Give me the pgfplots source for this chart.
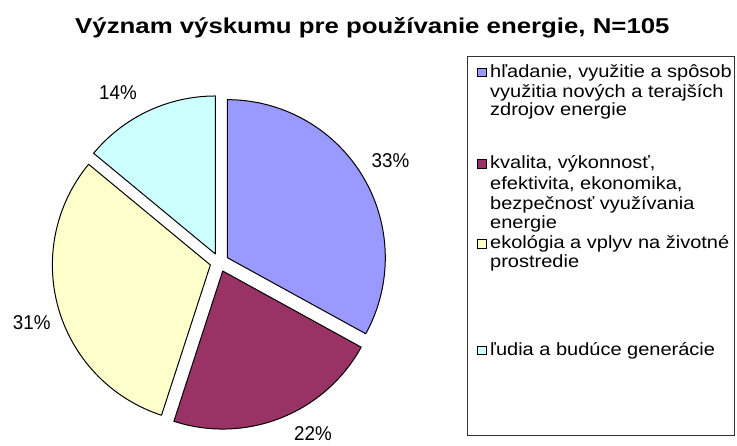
\documentclass[border=0pt]{standalone}
\usepackage{pgfplots}
\pgfplotsset{compat=1.18}
\usepackage{pgfplotstable}
\usepackage{fontspec}
\setmainfont{Liberation Sans}
\newfontfamily\legfont[FakeStretch=1.13]{Liberation Sans}
\newfontfamily\pctfont[FakeStretch=0.94]{Liberation Sans}
\newfontfamily\ttlfont[FakeStretch=1.2]{Liberation Sans}
\definecolor{cA}{HTML}{9999FF}
\definecolor{cB}{HTML}{993366}
\definecolor{cC}{HTML}{FFFFCC}
\definecolor{cD}{HTML}{CCFFFF}

% share of answers (%), clockwise from 12 o'clock
\pgfplotstableread{
value
33
22
31
14
}\piedata

\begin{document}
\begin{tikzpicture}
\pgfplotstablegetelem{0}{value}\of\piedata \let\vA\pgfplotsretval
\pgfplotstablegetelem{1}{value}\of\piedata \let\vB\pgfplotsretval
\pgfplotstablegetelem{2}{value}\of\piedata \let\vC\pgfplotsretval
\pgfplotstablegetelem{3}{value}\of\piedata \let\vD\pgfplotsretval
\pgfmathsetmacro\aZero{90}
\pgfmathsetmacro\aOne{\aZero-3.6*\vA}
\pgfmathsetmacro\aTwo{\aOne-3.6*\vB}
\pgfmathsetmacro\aThree{\aTwo-3.6*\vC}
\pgfmathsetmacro\aFour{\aThree-3.6*\vD}
\def\cx{219.3}\def\cy{182.6}\def\rr{158}\def\dd{9.3}
\pgfmathsetmacro\mA{(\aZero+\aOne)/2}
\pgfmathsetmacro\mB{(\aOne+\aTwo)/2}
\pgfmathsetmacro\mC{(\aTwo+\aThree)/2}
\pgfmathsetmacro\mD{(\aThree+\aFour)/2}
\pgfmathsetmacro\xA{\cx+\dd*cos(\mA)}\pgfmathsetmacro\yA{\cy+\dd*sin(\mA)}
\pgfmathsetmacro\xB{\cx+\dd*cos(\mB)}\pgfmathsetmacro\yB{\cy+\dd*sin(\mB)}
\pgfmathsetmacro\xC{\cx+\dd*cos(\mC)}\pgfmathsetmacro\yC{\cy+\dd*sin(\mC)}
\pgfmathsetmacro\xD{\cx+\dd*cos(\mD)}\pgfmathsetmacro\yD{\cy+\dd*sin(\mD)}
\begin{axis}[
  at={(0,0)}, anchor=south west,
  scale only axis, width=737pt, height=445pt,
  xmin=0, xmax=737, ymin=0, ymax=445,
  hide axis,
]
\addplot[fill=cA, draw=black, line width=1pt, line join=round, domain=\aOne:\aZero, samples=90, variable=\t]
  ({\xA+\rr*cos(\t)}, {\yA+\rr*sin(\t)}) -- (\xA,\yA) -- cycle;
\addplot[fill=cB, draw=black, line width=1pt, line join=round, domain=\aTwo:\aOne, samples=70, variable=\t]
  ({\xB+\rr*cos(\t)}, {\yB+\rr*sin(\t)}) -- (\xB,\yB) -- cycle;
\addplot[fill=cC, draw=black, line width=1pt, line join=round, domain=\aThree:\aTwo, samples=90, variable=\t]
  ({\xC+\rr*cos(\t)}, {\yC+\rr*sin(\t)}) -- (\xC,\yC) -- cycle;
\addplot[fill=cD, draw=black, line width=1pt, line join=round, domain=\aFour:\aThree, samples=50, variable=\t]
  ({\xD+\rr*cos(\t)}, {\yD+\rr*sin(\t)}) -- (\xD,\yD) -- cycle;

% percentage labels
\begin{scope}[every node/.style={font=\pctfont\fontsize{20}{22}\selectfont, inner sep=0pt, anchor=base}]
\node at (390.5,277.3) {33\%};
\node at (313,5.0) {22\%};
\node at (31.7,115.8) {31\%};
\node at (118,345.5) {14\%};
\end{scope}

% title
\node[font=\ttlfont\bfseries\fontsize{21.5}{24}\selectfont, inner sep=0pt, anchor=base] at (372.4,411.7)
  {Význam výskumu pre používanie energie, N=105};

% legend
\draw[line width=0.9pt, black!80] (467.7,389) rectangle (734.3,9.3);
\begin{scope}[every node/.style={font=\legfont\fontsize{17.7}{19.6}\selectfont, inner sep=0pt, anchor=base west}]
\node at (490,367.3) {hľadanie, využitie a spôsob};
\node at (490,347.7) {využitia nových a terajších};
\node at (490,329.0) {zdrojov energie};
\node at (490,276.0) {kvalita, výkonnosť,};
\node at (490,255.0) {efektivita, ekonomika,};
\node at (490,235.0) {bezpečnosť využívania};
\node at (490,216.0) {energie};
\node at (490,196.0) {ekológia a vplyv na životné};
\node at (490,177.3) {prostredie};
\node at (490,89.3) {ľudia a budúce generácie};
\end{scope}
\begin{scope}[line width=0.9pt, draw=black]
\filldraw[fill=cA] (477.5,368.3) rectangle ++(8.5,8.5);
\filldraw[fill=cB] (477.5,277.0) rectangle ++(8.5,8.5);
\filldraw[fill=cC] (477.5,197.0) rectangle ++(8.5,8.5);
\filldraw[fill=cD] (477.5,90.3) rectangle ++(8.5,8.5);
\end{scope}
\end{axis}
\pgfresetboundingbox
\useasboundingbox (0,0) rectangle (737pt,445pt);
\end{tikzpicture}
\end{document}
